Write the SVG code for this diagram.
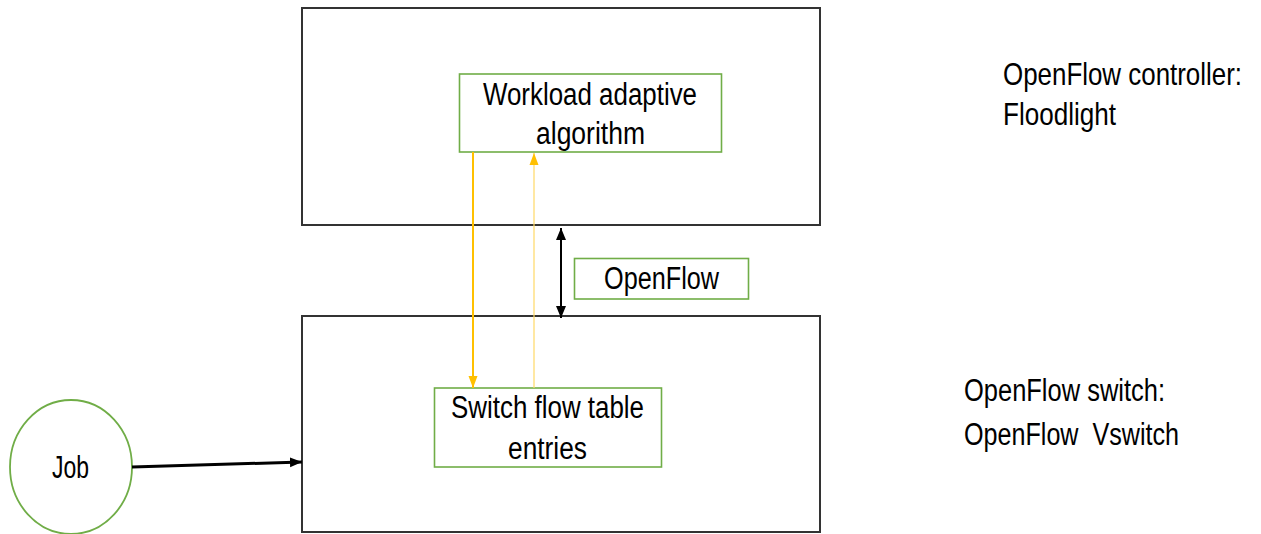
<svg xmlns="http://www.w3.org/2000/svg" width="1261" height="534" viewBox="0 0 1261 534">
  <style>
    .frame { fill: #ffffff; stroke: #333333; stroke-width: 2; }
    .box { fill: #ffffff; stroke: #70AD47; stroke-width: 1.6; }
    .label { font-family: "Liberation Sans", Arial, sans-serif; font-size: 31px; fill: #000000; white-space: pre; }
    .mid { text-anchor: middle; }
    .conn-dark { stroke: #000000; stroke-width: 2; fill: none; }
    .conn-job { stroke: #000000; stroke-width: 3; fill: none; }
    .conn-gold { stroke: #FFC000; stroke-width: 2; fill: none; }
    .conn-pale { stroke: #FFD966; stroke-width: 1.2; fill: none; }
  </style>
  <defs>
    <marker id="head-black" markerUnits="userSpaceOnUse" markerWidth="12" markerHeight="12" viewBox="0 0 12 12" refX="12" refY="6" orient="auto-start-reverse">
      <path d="M0,1 L12,6 L0,11 Z" fill="#000000"/>
    </marker>
    <marker id="head-gold" markerUnits="userSpaceOnUse" markerWidth="12" markerHeight="12" viewBox="0 0 12 12" refX="12" refY="6" orient="auto">
      <path d="M0,1.5 L12,6 L0,10.5 Z" fill="#FFC000"/>
    </marker>
  </defs>

  <rect width="1261" height="534" fill="#ffffff"/>

  <!-- controller frame -->
  <g id="controller">
    <rect class="frame" x="302" y="8" width="518" height="217"/>
  </g>

  <!-- switch frame -->
  <g id="switch">
    <rect class="frame" x="302" y="316" width="518" height="216"/>
  </g>

  <g id="workload-algorithm">
    <rect class="box" x="459.5" y="74" width="262" height="78"/>
    <text class="label mid" x="590" y="105" textLength="214" lengthAdjust="spacingAndGlyphs">Workload adaptive</text>
    <text class="label mid" x="590.5" y="144" textLength="109" lengthAdjust="spacingAndGlyphs">algorithm</text>
  </g>

  <g id="flow-table">
    <rect class="box" x="434.5" y="388" width="227" height="79"/>
    <text class="label mid" x="547.5" y="418" textLength="193" lengthAdjust="spacingAndGlyphs">Switch flow table</text>
    <text class="label mid" x="547.5" y="459" textLength="79" lengthAdjust="spacingAndGlyphs">entries</text>
  </g>

  <g id="openflow-label">
    <rect class="box" x="574.5" y="258.5" width="174" height="40.5"/>
    <text class="label mid" x="661.5" y="289" textLength="115" lengthAdjust="spacingAndGlyphs">OpenFlow</text>
  </g>

  <g id="job">
    <ellipse cx="71" cy="467" rx="61" ry="67" fill="#ffffff" stroke="#70AD47" stroke-width="1.8"/>
    <text class="label mid" x="70.5" y="478" textLength="37" lengthAdjust="spacingAndGlyphs">Job</text>
  </g>

  <g id="controller-caption">
    <!-- horizontally condensed so the caption stays inside the canvas -->
    <text class="label" transform="translate(1003 85) scale(0.836 1)">OpenFlow controller:</text>
    <text class="label" x="1003" y="125" textLength="113" lengthAdjust="spacingAndGlyphs">Floodlight</text>
  </g>

  <g id="switch-caption">
    <text class="label" x="964" y="401" textLength="201" lengthAdjust="spacingAndGlyphs">OpenFlow switch:</text>
    <text class="label" x="964" y="445" textLength="215" lengthAdjust="spacingAndGlyphs" xml:space="preserve">OpenFlow  Vswitch</text>
  </g>

  <!-- connectors -->
  <g id="connectors">
    <line class="conn-gold" x1="473" y1="152" x2="473" y2="388" marker-end="url(#head-gold)"/>
    <line class="conn-pale" x1="534" y1="388" x2="534" y2="153" marker-end="url(#head-gold)"/>
    <line class="conn-dark" x1="561" y1="228" x2="561" y2="318" marker-start="url(#head-black)" marker-end="url(#head-black)"/>
    <line class="conn-job" x1="132" y1="467" x2="302" y2="462" marker-end="url(#head-black)"/>
  </g>
</svg>
